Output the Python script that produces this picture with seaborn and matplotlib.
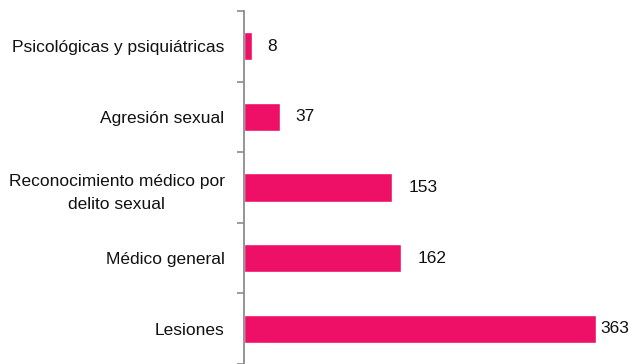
import matplotlib
matplotlib.use("Agg")
import matplotlib.pyplot as plt
import seaborn as sns
import pandas as pd
from matplotlib.ticker import FixedLocator

categories = [
    "Psicológicas y psiquiátricas",
    "Agresión sexual",
    "Reconocimiento médico por\ndelito sexual",
    "Médico general",
    "Lesiones",
]
values = [8, 37, 153, 162, 363]
label_offsets = [15, 15, 16, 16, 4]  # gap between bar end and value label, in px

sns.set_theme(style="white")
plt.rcParams["font.family"] = ["Liberation Sans", "DejaVu Sans"]

df = pd.DataFrame({"cat": categories, "val": values})

fig = plt.figure(figsize=(6.29, 3.64), dpi=100)
ax = fig.add_axes([244 / 629, 0.0, 1 - 244 / 629, 1 - 11 / 364])

sns.barplot(data=df, y="cat", x="val", orient="h", color="#EE0F66",
            width=0.4, saturation=1, ax=ax)

ax.set_xlim(0, 385 / 0.97)
ax.set_ylim(len(categories) - 0.5, -0.5)

for i, (v, off) in enumerate(zip(values, label_offsets)):
    ax.annotate(str(v), xy=(v, i), xytext=(off * 0.72, 0), textcoords="offset points",
                ha="left", va="center", fontsize=12.5, color="#111111", clip_on=False)

ax.set_xlabel("")
ax.set_ylabel("")
ax.set_xticks([])
for s in ["top", "right", "bottom"]:
    ax.spines[s].set_visible(False)
ax.spines["left"].set_color("#8c8c8c")
ax.spines["left"].set_linewidth(1.3)

ax.yaxis.set_minor_locator(FixedLocator([i - 0.5 for i in range(len(categories) + 1)]))
ax.tick_params(axis="y", which="major", length=0, pad=14, labelsize=12.5, labelcolor="#111111")
ax.tick_params(axis="y", which="minor", left=True, length=5, width=1.2, color="#8c8c8c")
for t in ax.get_yticklabels():
    t.set_multialignment("center")
    t.set_linespacing(1.7)

fig.savefig("out.png", dpi=100)
